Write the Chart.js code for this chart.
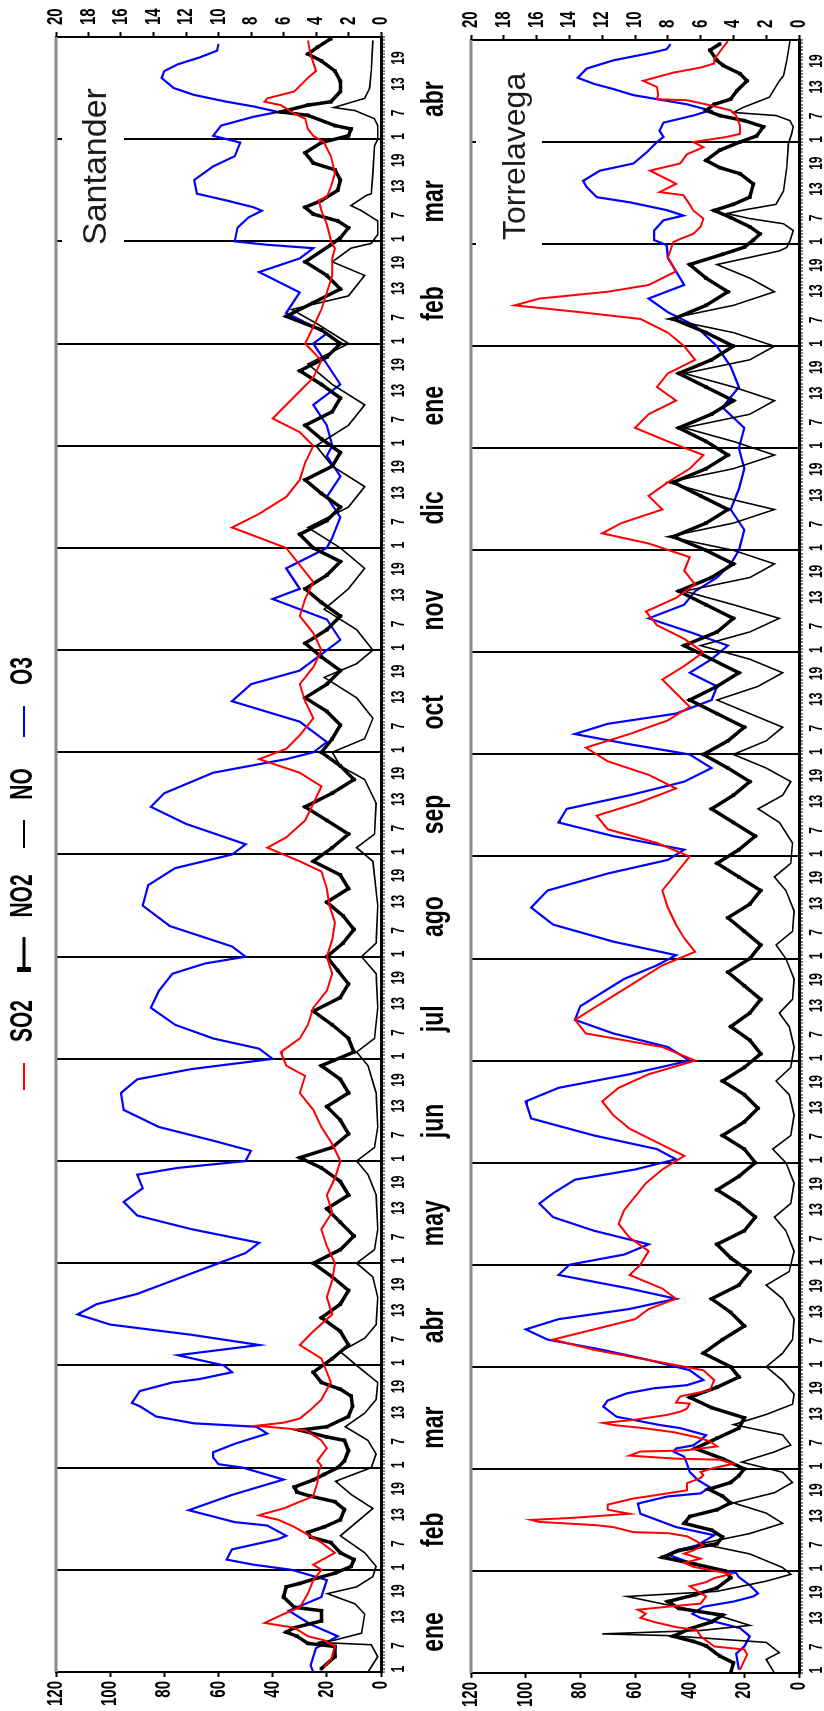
<!DOCTYPE html>
<html>
<head>
<meta charset="utf-8">
<script src="https://cdn.jsdelivr.net/npm/chart.js@4.4.1/dist/chart.umd.min.js"></script>
<style>
  html, body { margin: 0; padding: 0; background: #fff; }
  body { width: 824px; height: 1711px; overflow: hidden; position: relative; }
  /* la figura se dibuja apaisada y luego se gira 90 grados */
  #figura { position: absolute; left: 0; top: 0; width: 1711px; height: 824px; overflow: hidden;
            background: #fff; transform-origin: 0 0; transform: translateY(1711px) rotate(-90deg); }
  #figura canvas { position: absolute; left: 0; }
  #cvSant { top: 0; }
  #cvTorre { top: 440px; }
</style>
</head>
<body>
<div id="figura">
  <canvas id="cvSant" width="1711" height="470"></canvas>
  <canvas id="cvTorre" width="1711" height="420"></canvas>
</div>
<script>
// eje de tiempo: 16 meses de 30 dias (ene -> abr del año siguiente)
const meses = ['ene', 'feb', 'mar', 'abr', 'may', 'jun', 'jul', 'ago', 'sep', 'oct', 'nov', 'dic', 'ene', 'feb', 'mar', 'abr'];
const etiquetasDia = ['1', '7', '13', '19'];
const posDia = [0.8, 7.7, 16.2, 23.8];
const ticksPrincipal = [0, 20, 40, 60, 80, 100, 120];
const ticksSecundario = [0, 2, 4, 6, 8, 10, 12, 14, 16, 18, 20];

// Santander  [dia, valor]
const santSO2 = [[1.5,21],[3.6,18.5],[7.5,17],[9.3,21],[10.5,27],[13,32],[14.4,43],[17,36],[19,30],[23,27],[27,25],[30,22],[31.5,25],[35,17],[38,22],[42.6,32],[44.7,38],[46,45],[46.5,43],[48,36],[51.6,25],[55.5,23.5],[59,23],[60.6,22],[62,23.5],[65.7,20],[68,22],[71,28],[72,42],[72.3,46],[73.2,36],[74.4,30],[77,26],[80,22],[83,20],[85,18.5],
  [88,20],[92,22],[96,30],[100,25],[105,18],[110,20],[115,18],[120,17],[125,20],[130,22],[135,18],[140,20],[145,17],[150,15],[155,18],[160,22],[165,25],[170,30],[175,28],[178,35],[182,37],[186,30],[190,27],[195,25],[200,20],[205,18],[210,20],[215,18],[220,17],[225,19],[230,20],[235,22],[238,30],[242,42],[245,35],[250,28],[255,25],[260,22],[264,30],[268,45],[271,35],[275,30],[280,25],[285,28],[290,30],[295,25],[300,22],[305,25],[310,30],[315,28],[320,25],[325,30],[330,35],[333,45],[336,55],[340,45],[345,35],[350,30],[355,28],[360,25],[364,30],[368,40],[372,35],[376,30],[380,25],[385,22],[390,28],[395,25],[400,22],[405,20],[410,18],[415,18],
  [418,17],[420,18.5],[422,19],[425,20],[429,22],[432,23],[433,20],[436,18.5],[440,17],[445,18.5],[449,21],[451,25],[453,27],[456,28],[457.5,32],[460,37],[461,43],[462,42],[464,32],[468,27],[470,24],[475,26],[479,27]];

const santNO2 = [[1,22],[4.5,17],[7.5,17],[8.4,27],[10.5,31],[11.7,35],[13,32],[15,22],[18,22],[19,32],[22,36],[25,35],[26,30],[27.6,23.5],[29,17],[31,11],[33,10],[35,15],[38,18.5],[39.6,26],[41,27],[42.6,21],[44.7,15],[47.7,13.5],[50,17],[51.6,26],[52.8,31],[54.3,32],[56.4,25],[58,21],[60,16],[62,13.5],[65,12],[68,13.5],[69,20],[71,30],[72,20],[75,12],[78,10.5],[81,11],[83,15],[85,22],
  [88,25],[92,18],[96,12],[100,15],[104,22],[108,15],[112,12],[116,18],[120,25],[124,15],[128,10],[132,15],[136,20],[140,12],[144,15],[148,22],[151,30],[154,18],[158,12],[162,15],[166,20],[170,12],[174,15],[178,22],[182,10],[186,12],[190,18],[194,25],[198,15],[202,12],[206,16],[210,20],[214,14],[218,10],[222,14],[226,20],[230,12],[234,15],[238,25],[242,18],[246,12],[250,20],[254,28],[258,18],[262,10],[266,15],[270,22],[274,18],[278,15],[282,20],[286,28],[290,20],[294,15],[298,22],[302,28],[306,20],[310,15],[314,22],[318,28],[322,20],[326,15],[330,25],[334,30],[338,20],[342,15],[346,22],[350,28],[354,18],[358,15],[362,22],[366,28],[370,18],[374,15],[378,22],[382,30],[386,20],[390,15],[394,22],[398,35],[402,25],[406,15],[410,20],[414,28],
  [419,18.5],[421,15],[424,12],[426,16],[428,25],[430,28],[432,22],[435,16],[438,15],[441,17],[443,25],[446,28],[449,22],[451,12],[453,11],[454,17],[457,27],[458,37],[460,27],[461,18.5],[464,15],[467,15],[470,17],[473,22],[475,27],[477,23.5],[479.5,18.5]];

const santNO = [[0,0.8],[4.5,0.2],[8,0.6],[8.7,3.9],[9.3,2.9],[11.4,1.2],[17,1.0],[20,1.6],[23,3.3],[25,1.5],[28,0.5],[31,0.3],[35,1.0],[40,2.5],[44,1.5],[48,0.5],[52,1.8],[56,2.8],[60,0.6],[64,0.3],[68,0.8],[72,2.2],[76,1.0],[80,0.3],[85,0.2],
  [90,1.5],[94,2.5],[98,1.0],[102,0.3],[110,0.2],[116,0.5],[120,1.5],[124,0.4],[130,0.2],[140,0.3],[146,0.8],[150,1.5],[154,0.4],[160,0.2],[170,0.3],[178,0.8],[182,1.5],[186,0.4],[195,0.2],[205,0.3],[210,1.2],[214,0.3],[225,0.2],[238,0.5],[242,1.5],[246,0.4],[255,0.3],[262,1.0],[266,2.5],[270,3.0],[274,1.0],[280,0.5],[286,1.5],[292,3.5],[296,1.5],[300,0.5],[306,1.5],[312,3.5],[318,2.0],[324,1.0],[330,2.5],[336,4.5],[342,2.0],[348,1.0],[354,3.0],[360,4.0],[366,2.0],[372,1.0],[378,3.0],[384,4.5],[390,2.0],[396,4.0],[400,5.5],[404,2.0],[410,1.0],[414,3.0],
  [418,1.85],[419.4,0.6],[422,0.2],[426,0.2],[429,1.2],[430.5,1.85],[433.5,0.9],[434,0.6],[440,0.5],[448,0.4],[450,0.2],[454,0.2],[456,0.4],[458.4,1.6],[459.3,2.9],[462,1.0],[465,0.7],[470,0.6],[479,0.5]];

const santO3 = [[0,25],[2,26],[7,24],[10.5,16],[14,26],[18,34],[22,22],[27,20],[30,33],[31.5,47],[33,57],[36,55],[39,38],[40,35],[43,42],[44,54],[47.5,71],[52,55],[56.5,36],[60,51],[61,60],[63,62],[64.5,62],[67,54],[70,42],[72,46],[73,69],[75,83],[78,89],[79,92],[82.5,89],[85,77],[86,67],[88,55],[90,58],
  [93,75],[96,45],[99,70],[102,100],[105,112],[108,105],[111,90],[114,80],[117,70],[120,60],[123,50],[126,45],[130,70],[134,90],[138,95],[142,88],[146,90],[148,75],[150,50],[153,48],[156,62],[160,82],[165,95],[170,96],[174,90],[177,70],[180,40],[183,45],[186,62],[190,76],[195,85],[200,82],[205,77],[208,65],[210,50],[213,55],[219,78],[225,88],[231,86],[236,76],[240,55],[243,50],[249,72],[254,85],[258,80],[264,62],[268,35],[270,25],[273,20],[279,30],[285,55],[290,48],[294,30],[300,20],[303,15],[309,20],[315,40],[318,30],[324,35],[330,20],[333,18],[339,15],[345,20],[351,15],[357,20],[360,18],[366,20],[372,25],[378,15],[384,20],[390,25],[393,20],[399,35],[405,30],[411,45],[415,30],
  [418,25],[419,42],[420,54],[424,53],[427,49],[429,44],[430,47],[432,57],[434,68],[438,69],[442,62],[445,54],[449,52],[451,62],[454,59],[456.6,47],[458,38],[459.6,47],[461,57],[463,69],[465,76.5],[468,81],[470,80],[472,75],[474,67],[476,60.5],[478,60]];

// Torrelavega  [dia, valor]
const torreSO2 = [[0.9,21.6],[5.4,19],[6.9,20],[7.8,31],[10.8,36],[12.6,37.4],[13.5,45],[15,53],[16.2,58],[17.4,56],[18.6,59],[19.5,48],[20.4,36],[22.5,34],[25.5,40],[26.7,34],[27.9,31],[29.1,25],[30.3,32.6],[31.2,38.7],[32.4,42],[33.6,36],[35.1,42],[36,38.7],[37.5,35],[38.7,37.4],[40.2,41],[41.1,48],[41.4,60.6],[42.9,68],[43.5,75],[44.4,95],[45,98],[45.6,83],[46.8,62],[48,70],[49.5,70],[51.3,60.6],[52.2,53],[53.7,41],[55.8,41],[57.3,36],[58.2,35],[59.1,36],[60.3,31],[61.5,24],[62.7,29],[63,45],[63.9,62],[65.1,58],[65.4,42],[66.6,30],[68.1,32.6],[69.3,37.4],[70.8,46],[72,57],[72.9,68],[73.5,71.6],[74.4,60.6],[75.9,48],[76.8,43.5],[77.7,41],[79.2,40],[79.5,45],[81.3,43.5],[83.1,32.6],[86.1,31],
  [89,35],[92,55],[95,75],[98,90],[101,75],[104,60],[107,55],[110,45],[113,50],[117,62],[120,58],[124,55],[128,62],[132,66],[136,64],[140,60],[144,56],[148,50],[152,42],[156,52],[160,62],[164,68],[168,72],[172,66],[176,55],[180,38],[184,50],[188,78],[192,82],[196,74],[200,66],[204,58],[208,50],[212,38],[216,42],[220,45],[225,48],[230,50],[235,45],[240,40],[244,52],[248,70],[252,74],[256,58],[260,45],[264,55],[268,70],[272,78],[276,62],[280,48],[284,40],[288,45],[292,50],[296,42],[300,35],[304,42],[308,52],[312,56],[316,45],[320,38],[324,42],[328,40],[332,55],[335,72],[338,65],[342,50],[346,55],[350,48],[354,40],[358,35],[362,48],[366,60],[370,55],[374,45],[378,52],[382,48],[386,38],[390,42],[394,48],[398,58],[400,80],[402,104],[404,95],[406,70],[408,55],[412,45],[416,48],
  [420.6,46],[421.5,43.5],[423,38.7],[425.1,36],[427.5,35],[429.9,38.7],[431.7,40],[434.4,42.3],[435.3,51],[437.7,45],[438.6,47],[441.6,54.5],[443.7,43.5],[446.4,41],[448.5,35],[450,38.7],[451.5,26.5],[452.4,21.6],[454.8,21.6],[457.8,23],[459.3,25],[461.1,34],[462.3,41],[462.6,52],[463.8,51.5],[466.2,52],[468,57],[470.4,46],[471.9,36],[473.1,31],[474.3,31],[477.9,27.7],[479.7,26]];

const torreNO2 = [[0,25],[3,24],[5,29],[8,34],[9.3,38.7],[10.8,46],[13,40],[15,32],[17,28],[19,44],[21,48],[23,38],[25,30],[28,25],[30,27],[32,38],[34,50],[36,44],[38,30],[40,28],[42,32],[44,42],[46,40],[48,30],[50,25],[52,28],[54,33],[56,25],[58,22],[60,20],[63,28],[66,38],[69,30],[72,22],[75,20],[78,32],[81,40],[84,30],[87,22],
  [90,25],[94,35],[98,28],[102,20],[106,25],[110,32],[114,22],[118,18],[122,25],[126,30],[130,20],[134,16],[138,22],[142,30],[146,22],[150,16],[154,20],[158,28],[162,20],[166,15],[170,20],[174,28],[178,20],[182,14],[186,18],[190,25],[194,18],[198,14],[202,20],[206,26],[210,18],[214,14],[218,20],[222,26],[226,18],[230,14],[234,22],[238,30],[242,22],[246,16],[250,24],[254,32],[258,24],[262,18],[266,26],[270,35],[274,26],[278,20],[282,30],[286,40],[290,30],[294,22],[298,32],[302,42],[306,30],[310,24],[314,34],[318,44],[322,32],[326,24],[330,34],[334,46],[338,34],[342,26],[346,36],[350,46],[354,34],[358,26],[362,34],[366,44],[370,32],[374,24],[378,34],[382,44],[386,32],[390,24],[394,34],[398,46],[402,34],[406,26],[410,34],[414,40],[417,28],
  [419.1,20],[421.2,16.7],[423,14.3],[425.1,18],[427.8,25],[429.9,31],[431.7,24],[433.8,18],[437.7,16.7],[440.7,21.6],[442.5,29],[444.6,34],[447.6,29],[450,21.6],[451.8,15.5],[454.5,13],[456.3,20],[457.8,29],[459.3,34],[461.1,31],[462.6,25],[465,22.8],[468,19],[470.1,21.6],[472.5,27.7],[474,30],[477,32.6],[478.8,29]];

const torreNO = [[0,1.5],[4,2],[6,1.2],[9,2],[11,8],[11.5,12],[12.5,6],[14,3],[17,5],[20,8],[22.5,10.5],[24,5],[27,2],[29,0.5],[31,1],[35,3],[38,6],[41,3],[44,1],[47,2],[50,4],[53,1.5],[56,0.4],[59,1],[62,3.5],[65,1.5],[67,0.5],[70,1],[73,4],[76,2],[79,0.4],[82,0.3],[86,1],
  [90,2],[94,1],[98,0.4],[104,0.3],[110,1],[114,2],[118,0.6],[124,0.3],[130,0.8],[134,1.5],[138,0.5],[144,0.3],[150,0.8],[154,1.6],[158,0.5],[164,0.3],[170,0.6],[174,1.4],[178,0.5],[184,0.3],[190,0.6],[194,1.2],[198,0.4],[204,0.3],[210,0.8],[214,1.4],[218,0.4],[224,0.3],[230,0.8],[234,1.5],[238,0.5],[244,0.4],[250,1.2],[254,2.5],[258,1],[262,0.5],[266,2],[270,4],[274,2],[278,1],[282,3],[286,5],[290,2.5],[294,1],[298,3],[302,6],[306,3],[310,1.2],[314,4],[318,7],[322,3],[326,1.5],[330,4],[334,8],[338,4],[342,1.5],[346,5],[350,8],[354,4],[358,1.5],[362,4],[366,7],[370,3],[374,1.5],[378,4],[382,7],[386,3],[390,1.5],[394,4],[398,8],[402,4],[406,1.5],[410,3],[414,5],
  [418,1.2],[419,0.75],[421,0.55],[424,0.35],[426,0.95],[427.5,3.0],[429,4.4],[430,3.4],[431.7,1.4],[435.6,0.95],[442.5,0.75],[449.4,0.65],[452.4,0.45],[454.5,0.35],[456.3,0.55],[457.8,1.4],[458.7,4.0],[460.2,3.4],[463.2,1.8],[468,1.2],[469.5,0.95],[474,0.75],[479.7,0.55]];

const torreO3 = [[1,22],[5.7,23],[7.8,20],[10.8,18],[13.2,21.6],[14.7,29],[16.2,36],[17.4,39],[19.5,35],[21,24],[22.5,16.7],[23.4,15],[25.8,18],[28.2,22],[29.4,23],[30.3,29],[32.1,38.7],[34.8,48],[36,45],[37.5,37.4],[40.5,31],[42.9,45],[46.8,58],[49.8,59],[51.9,48],[52.8,36],[54.6,32.6],[56.7,37],[59.1,40],[61.5,41],[63.6,42],[65.1,46],[66,45],[66.9,38.7],[68.4,36],[69.9,34],[72,43.5],[72.9,51],[74.4,60.6],[75.3,66.7],[78.3,71.6],[80.1,70],[82.2,63],[83.7,53],[84.6,41],[86.1,35],
  [89,40],[92,55],[95,72],[98,92],[101,100],[104,88],[107,62],[110,45],[113,62],[117,88],[120,84],[123,64],[126,55],[130,75],[134,90],[138,95],[141,90],[145,82],[148,60],[151,45],[154,52],[158,75],[163,98],[168,100],[172,88],[176,62],[180,40],[184,48],[188,68],[192,82],[196,80],[200,72],[204,64],[208,52],[211,45],[215,68],[220,90],[225,98],[230,92],[235,70],[239,48],[242,42],[246,68],[250,88],[254,85],[258,62],[262,42],[266,32],[270,40],[273,62],[276,82],[279,70],[282,45],[286,32],[290,30],[294,40],[298,32],[302,26],[306,40],[310,55],[314,42],[318,38],[322,30],[326,25],[330,22],[336,20],[342,25],[348,22],[354,20],[360,22],[366,20],[372,28],[378,22],[384,25],[390,30],[396,38],[400,48],[404,55],[408,42],[412,45],[416,48],
  [419.7,48.4],[421.2,53],[424,53],[427,49.6],[428.4,42.3],[430,48.4],[432.3,62],[433.8,74],[436.8,77.7],[438.6,79],[441.6,72.8],[443.7,60.6],[447,55.7],[450,52],[451.5,49.6],[453.3,51],[455.7,49.6],[457.8,38.7],[459.3,32.6],[461.1,41],[462.3,49.6],[463.8,60.6],[465.6,68],[467.1,75],[468.9,81],[471.6,77.7],[474,68],[476.4,53],[477.3,48.4],[478.8,47]];

const leyenda = [
  { nombre: 'SO2', color: '#ff0000', linea: [621, 648], texto: 690 },
  { nombre: 'NO2', color: '#000000', linea: [741, 774], texto: 815, marca: true },
  { nombre: 'NO', color: '#000000', linea: [863, 891], texto: 927 },
  { nombre: 'O3', color: '#0000ff', linea: [974, 1005], texto: 1040 }
];

const FUENTE = '"Liberation Sans", Arial, sans-serif';

// texto en negrita estirado en vertical, como el de la figura original
const textoEstirado = (ctx, txt, x, y, tam, align, base, sy) => {
  ctx.save();
  ctx.translate(x, y);
  ctx.scale(1, sy);
  ctx.font = 'bold ' + tam + 'px ' + FUENTE;
  ctx.textAlign = align;
  ctx.textBaseline = base;
  ctx.fillStyle = '#000';
  ctx.fillText(txt, 0, 0);
  ctx.restore();
};

const pintaEtiquetas = {
  id: 'pintaEtiquetas',
  afterDatasetsDraw(chart, args, opts) {
    const { ctx, chartArea: a } = chart;
    // caja blanca con el nombre de la estacion
    ctx.save();
    ctx.fillStyle = '#fff';
    ctx.fillRect(a.right - opts.caja[0], a.top + opts.caja[1], opts.caja[0] - opts.caja[2], opts.caja[3]);
    ctx.fillStyle = '#1a1a1a';
    ctx.font = opts.tamTitulo + 'px ' + FUENTE;
    ctx.textAlign = 'left';
    ctx.textBaseline = 'alphabetic';
    ctx.fillText(opts.titulo, a.right - opts.tituloX, a.top + opts.tituloY);
    // borde superior gris (valor maximo)
    ctx.strokeStyle = '#8c8c8c';
    ctx.lineWidth = 3;
    ctx.beginPath();
    ctx.moveTo(a.left, a.top);
    ctx.lineTo(a.right, a.top);
    ctx.stroke();
    ctx.restore();
  },
  afterDraw(chart, args, opts) {
    const { ctx, chartArea: a, scales } = chart;
    const x = scales.x, y = scales.y, y1 = scales.y1;

    ticksPrincipal.forEach(v => textoEstirado(ctx, String(v), a.left - 9, y.getPixelForValue(v), 15, 'right', 'middle', 1.45));
    ticksSecundario.forEach(v => textoEstirado(ctx, String(v), a.right + 12, y1.getPixelForValue(v), 15, 'left', 'middle', 1.45));

    meses.forEach((mes, m) => {
      posDia.forEach((d, k) => {
        textoEstirado(ctx, etiquetasDia[k], x.getPixelForValue(m * 30 + d), a.bottom + 18, 12, 'center', 'middle', 1.5);
      });
      textoEstirado(ctx, mes, x.getPixelForValue(m * 30 + 15) - 11, a.bottom + 62, 23, 'center', 'alphabetic', 1.4);
    });

    if (opts.leyenda) {
      leyenda.forEach(it => {
        ctx.save();
        ctx.strokeStyle = it.color;
        ctx.lineWidth = it.marca ? 3 : 2;
        ctx.beginPath();
        ctx.moveTo(it.linea[0], 24);
        ctx.lineTo(it.linea[1], 24);
        ctx.stroke();
        if (it.marca) {
          ctx.fillStyle = it.color;
          ctx.fillRect(it.linea[0] - 2, 17, 5, 14);
        }
        ctx.restore();
        textoEstirado(ctx, it.nombre, it.texto, 24, 21, 'center', 'middle', 1.45);
      });
    }
  }
};

const aPuntos = serie => serie.map(([d, v]) => ({ x: d, y: v }));

const creaGrafico = (id, series, medidas, etiquetas) => {
  const ctx = document.getElementById(id).getContext('2d');
  return new Chart(ctx, {
    type: 'line',
    data: {
      datasets: [
        { label: 'SO2', data: aPuntos(series.so2), borderColor: '#ff0000', borderWidth: 2, pointRadius: 0, yAxisID: 'y' },
        { label: 'NO2', data: aPuntos(series.no2), borderColor: '#000', borderWidth: 3.5, pointRadius: 2.5, pointStyle: 'rect',
          pointBackgroundColor: '#000', pointBorderWidth: 0, yAxisID: 'y' },
        { label: 'NO', data: aPuntos(series.no), borderColor: '#000', borderWidth: 1.6, pointRadius: 0, yAxisID: 'y1' },
        { label: 'O3', data: aPuntos(series.o3), borderColor: '#0000ff', borderWidth: 2.2, pointRadius: 0, yAxisID: 'y' }
      ]
    },
    options: {
      responsive: false,
      animation: false,
      devicePixelRatio: 1,
      layout: { padding: { top: medidas.arriba, left: 0, right: 0, bottom: 0 } },
      elements: { line: { tension: 0, fill: false } },
      scales: {
        x: {
          type: 'linear', min: 0, max: 480,
          afterBuildTicks: eje => { eje.ticks = Array.from({ length: 481 }, (_, i) => ({ value: i })); },
          afterFit: eje => { eje.height = medidas.ejeX; },
          ticks: { display: false },
          grid: {
            color: c => (c.tick && c.tick.value % 30 === 0) ? '#000' : 'rgba(0,0,0,0)',
            lineWidth: 2,
            tickColor: '#000', tickWidth: 1, tickLength: 4
          },
          border: { color: '#000', width: 3 }
        },
        y: {
          position: 'left', min: 0, max: 120,
          afterBuildTicks: eje => { eje.ticks = ticksPrincipal.map(v => ({ value: v })); },
          afterFit: eje => { eje.width = medidas.izq; },
          ticks: { display: false },
          grid: { drawOnChartArea: false, tickColor: '#000', tickLength: 5, tickWidth: 2 },
          border: { color: '#000', width: 2 }
        },
        y1: {
          position: 'right', min: 0, max: 20,
          afterBuildTicks: eje => { eje.ticks = ticksSecundario.map(v => ({ value: v })); },
          afterFit: eje => { eje.width = medidas.der; },
          ticks: { display: false },
          grid: { drawOnChartArea: false, tickColor: '#000', tickLength: 5, tickWidth: 2 },
          border: { color: '#000', width: 2 }
        }
      },
      plugins: {
        legend: { display: false },
        tooltip: { enabled: false },
        pintaEtiquetas: etiquetas
      }
    },
    plugins: [pintaEtiquetas]
  });
};

creaGrafico('cvSant',
  { so2: santSO2, no2: santNO2, no: santNO, o3: santO3 },
  { arriba: 56, ejeX: 89, izq: 39, der: 37 },
  { titulo: 'Santander', tamTitulo: 34, tituloX: 208, tituloY: 50, caja: [223, 6, 38, 62], leyenda: true });

creaGrafico('cvTorre',
  { so2: torreSO2, no2: torreNO2, no: torreNO, o3: torreO3 },
  { arriba: 31, ejeX: 61, izq: 38, der: 40 },
  { titulo: 'Torrelavega', tamTitulo: 32, tituloX: 200, tituloY: 54, caja: [216, 5, 21, 66], leyenda: false });
</script>
</body>
</html>
